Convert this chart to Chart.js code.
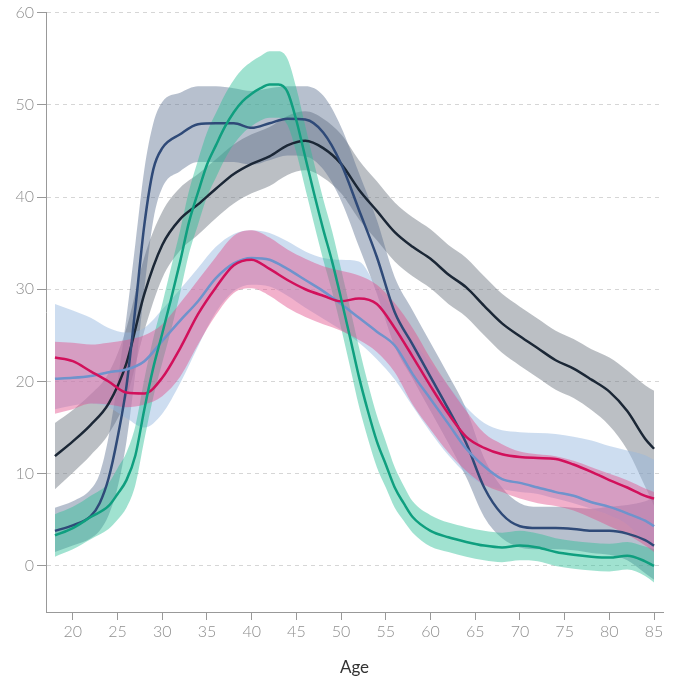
<!DOCTYPE html>
<html lang="en">
<head>
<meta charset="UTF-8" />
<title>Age</title>
<script src="https://cdn.jsdelivr.net/npm/chart.js"></script>
<style>
  html, body { margin: 0; padding: 0; background: #fff; }
</style>
</head>
<body>
<canvas id="ageChart" width="673" height="682"></canvas>
<script>
// tick values
const ageTicks = [20, 25, 30, 35, 40, 45, 50, 55, 60, 65, 70, 75, 80, 85];
const valueTicks = [0, 10, 20, 30, 40, 50, 60];

// common ages (2-year steps)
const ages = [18, 20, 22, 24, 26, 28, 30, 32, 34, 36, 38, 40, 42, 44, 46, 48, 50, 52, 54, 56, 58, 60, 62, 64, 66, 68, 70, 72, 74, 76, 78, 80, 82, 84, 85];

// dark navy series
const navyMid  = [11.9, 13.5, 15.3, 17.6, 22, 29.5, 34.8, 37.6, 39.2, 40.9, 42.5, 43.6, 44.4, 45.6, 46.1, 45.3, 43.6, 40.8, 38.5, 36.2, 34.6, 33.3, 31.6, 30.2, 28.2, 26.3, 24.9, 23.6, 22.3, 21.4, 20.2, 18.9, 16.8, 13.8, 12.7];
const navyLow  = [8.3, 10.1, 12.0, 14.3, 18.2, 25.5, 31.2, 34.2, 35.9, 37.7, 39.3, 40.4, 41.2, 42.4, 42.9, 42.1, 40.4, 37.6, 35.3, 33.0, 31.4, 30.1, 28.4, 27.0, 25.0, 23.1, 21.7, 20.4, 19.1, 18.2, 16.9, 15.2, 12.6, 8.6, 6.5];
const navyHigh = [15.5, 16.9, 18.6, 20.9, 25.8, 33.5, 38.4, 41.0, 42.5, 44.1, 45.7, 46.8, 47.6, 48.8, 49.3, 48.5, 46.8, 44.0, 41.7, 39.4, 37.8, 36.5, 34.8, 33.4, 31.4, 29.5, 28.1, 26.8, 25.5, 24.6, 23.5, 22.6, 21.2, 19.6, 19.0];

// steel blue series
const steelAges = [18, 20, 22, 23, 24, 25, 26, 27, 28, 29, 30, 32, 34, 36, 38, 40, 42, 44, 46, 48, 50, 52, 54, 56, 58, 60, 62, 64, 66, 68, 70, 72, 74, 76, 78, 80, 82, 84, 85];
const steelMid  = [3.8, 4.4, 5.4, 6.8, 9.5, 13.9, 19.5, 28, 37, 43, 45.3, 46.8, 47.9, 48, 48, 47.5, 48, 48.5, 48.4, 47, 43.6, 38.6, 33.5, 27.5, 24, 20.5, 17, 13.3, 8.5, 5.6, 4.3, 4.1, 4.1, 4, 3.8, 3.8, 3.5, 2.8, 2.2];
const steelLow  = [1.5, 2.2, 3.0, 3.8, 5.5, 8.5, 13.5, 21, 30, 37.5, 41, 42.8, 43.8, 43.8, 43.8, 43.5, 44, 44.5, 44.4, 43, 39.6, 34.6, 29.5, 23.8, 20.3, 16.8, 13.3, 9.6, 5.3, 3, 2, 1.8, 1.8, 1.7, 1.4, 1.2, 0.6, -0.8, -1.5];
const steelHigh = [6.3, 7.0, 8.3, 10, 14, 20, 27, 35, 43, 48, 50.3, 51.3, 52, 52, 51.8, 51.5, 51.8, 52, 52, 51, 47.6, 42.6, 37.5, 31.3, 27.7, 24.2, 20.7, 17, 11.7, 8.5, 6.8, 6.4, 6.4, 6.3, 6.2, 6.4, 6.6, 7, 7.5];

// green series
const greenAges = [18, 20, 22, 24, 25, 26, 27, 28, 29, 30, 31, 32, 33, 34, 35, 36, 37, 38, 39, 40, 41, 42, 43, 44, 45, 46, 47, 48, 49, 50, 51, 52, 53, 54, 55, 56, 57, 58, 60, 62, 64, 66, 68, 70, 72, 74, 76, 78, 80, 82, 84, 85];
const greenMid  = [3.3, 4.1, 5.3, 6.5, 7.8, 9.3, 12, 17, 21.5, 25.2, 29, 33, 37.3, 40.5, 43.5, 45.6, 47.6, 49.2, 50.4, 51.2, 51.8, 52.2, 52.2, 51.4, 48.3, 44.3, 40.3, 36.5, 33, 29, 24.8, 20.5, 16.8, 13.5, 11, 8.5, 6.8, 5.3, 3.8, 3.1, 2.6, 2.2, 2, 2.2, 2, 1.5, 1.2, 1, 0.9, 1.1, 0.5, 0];
const greenLow  = [1.0, 1.8, 2.9, 4.0, 5.0, 6.3, 8.8, 13.7, 18.3, 22, 25.6, 29.6, 33.9, 37, 40, 42.1, 44.1, 45.7, 46.9, 47.7, 48.3, 48.6, 48.6, 47.8, 44.8, 40.9, 37, 33.2, 29.7, 25.8, 21.6, 17.3, 13.8, 10.7, 8.5, 6.3, 4.9, 3.6, 2.1, 1.5, 1.0, 0.6, 0.4, 0.6, 0.5, 0, -0.3, -0.5, -0.6, -0.4, -1.1, -1.8];
const greenHigh = [5.6, 6.4, 7.6, 9.0, 10.6, 12.3, 15.2, 20.3, 24.7, 28.4, 32.4, 36.4, 40.7, 44, 47, 49.1, 51.1, 52.7, 53.9, 54.7, 55.3, 55.8, 55.8, 55, 51.8, 47.7, 43.6, 39.8, 36.3, 32.2, 28, 23.7, 19.8, 16.3, 13.5, 10.7, 8.7, 7.0, 5.5, 4.7, 4.2, 3.8, 3.6, 3.8, 3.5, 3, 2.7, 2.5, 2.4, 2.6, 2.1, 1.8];

// magenta series
const magentaMid  = [22.6, 22.2, 21.1, 20, 18.8, 18.7, 20.4, 23.6, 27.3, 30.2, 32.6, 33.2, 32.2, 31, 30, 29.3, 28.7, 29, 28.4, 25.8, 22.7, 19.5, 16.5, 14, 12.8, 12.1, 11.8, 11.7, 11.6, 11, 10.2, 9.3, 8.5, 7.6, 7.3];
const magentaLow  = [16.5, 17, 17.6, 17.5, 17.2, 17.5, 18.4, 20.5, 24, 27.2, 29.6, 30.1, 29.3, 28, 27, 26.2, 25.5, 24.5, 23.2, 21, 17.5, 14.8, 12.3, 10.3, 8.8, 8, 7.3, 6.8, 6.5, 6, 5.2, 4.3, 3.4, 2.2, 1.5];
const magentaHigh = [24.3, 24.2, 24, 24.2, 24.5, 25, 26.2, 28.5, 31, 33.5, 35.8, 36.4, 35.6, 34.3, 33.3, 32.5, 32, 31.5, 30.5, 28.5, 25.8, 22.5, 19.5, 16.8, 14.4, 13.2, 12.4, 12.1, 11.9, 11.4, 10.7, 10, 9.3, 8.4, 8];

// light blue series
const lightMid  = [20.3, 20.4, 20.6, 21, 21.3, 22.2, 24.4, 26.6, 28.7, 31.2, 32.8, 33.4, 33.2, 32.2, 31, 29.8, 28.4, 26.9, 25.4, 23.9, 20.8, 18.1, 15.4, 12.7, 10.8, 9.4, 9, 8.5, 8, 7.6, 6.9, 6.4, 5.7, 4.9, 4.3];
const lightLow  = [17.0, 17.4, 17.6, 17.2, 16.0, 15.0, 16.5, 19.8, 23.8, 27.5, 29.8, 30.5, 30.3, 29.3, 28, 26.8, 25.6, 24.2, 22.4, 20.2, 17.3, 14.5, 12, 10, 8.8, 8.3, 8, 7.8, 7.3, 6.8, 6.2, 5.5, 4.5, 2.5, 1.5];
const lightHigh = [28.4, 27.7, 26.9, 25.8, 25.3, 25.8, 27.8, 30, 32.3, 34.6, 36, 36.4, 36.1, 35.2, 34.1, 33.4, 33.2, 33, 30.2, 27.5, 24.5, 22, 19.5, 17.2, 15.5, 14.7, 14.5, 14.4, 14.3, 14, 13.6, 13, 12.5, 12, 11.5];

const pts = (xs, ys) => xs.map((x, i) => ({ x: x, y: ys[i] }));

function band(xs, low, high, color) {
  return [
    { data: pts(xs, low), borderWidth: 0, pointRadius: 0, fill: false,
      cubicInterpolationMode: 'monotone' },
    { data: pts(xs, high), borderWidth: 0, pointRadius: 0, fill: '-1',
      backgroundColor: color, cubicInterpolationMode: 'monotone' }
  ];
}

function line(xs, ys, color) {
  return { data: pts(xs, ys), borderColor: color, borderWidth: 2.5, pointRadius: 0,
    fill: false, cubicInterpolationMode: 'monotone' };
}

const datasets = [
  line(greenAges, greenMid, '#0f9f7f'),
  line(ages, magentaMid, '#d2105b'),
  line(ages, lightMid, '#6f93cc'),
  line(steelAges, steelMid, '#2f4a78'),
  line(ages, navyMid, '#1b2736'),
  ...band(ages, magentaLow, magentaHigh, 'rgba(226, 80, 140, 0.45)'),
  ...band(greenAges, greenLow, greenHigh, 'rgba(45, 190, 150, 0.45)'),
  ...band(ages, lightLow, lightHigh, 'rgba(150, 183, 224, 0.48)'),
  ...band(steelAges, steelLow, steelHigh, 'rgba(88, 108, 142, 0.43)'),
  ...band(ages, navyLow, navyHigh, 'rgba(110, 118, 130, 0.47)')
];

const tickFont = { family: 'Lato', size: 16, weight: '300' };

new Chart(document.getElementById('ageChart'), {
  type: 'line',
  data: { datasets: datasets },
  options: {
    responsive: false,
    animation: false,
    layout: { padding: { top: 12, right: 10, bottom: 0, left: 0 } },
    plugins: {
      legend: { display: false },
      tooltip: { enabled: false },
      filler: { drawTime: 'beforeDatasetsDraw' }
    },
    scales: {
      x: {
        type: 'linear',
        min: 17,
        max: 86,
        afterBuildTicks: s => { s.ticks = ageTicks.map(v => ({ value: v })); },
        afterFit: s => { s.height = 70; },
        ticks: { color: '#8f8f8f', font: tickFont, padding: 2, maxRotation: 0 },
        grid: { drawOnChartArea: false, tickLength: 8, tickColor: '#999' },
        border: { color: '#999', width: 1 },
        title: { display: true, text: 'Age', color: '#333',
          font: { family: 'Lato', size: 17 }, padding: { top: 0, bottom: 4 } }
      },
      y: {
        min: -5,
        max: 60,
        afterBuildTicks: s => { s.ticks = valueTicks.map(v => ({ value: v })); },
        afterFit: s => { s.width = 46; },
        ticks: { color: '#8f8f8f', font: tickFont, padding: 3 },
        grid: { color: '#d6d6d6', tickColor: '#999', tickLength: 9, tickBorderDash: [] },
        border: { color: '#999', width: 1, dash: [4, 4] }
      }
    }
  }
});
</script>
</body>
</html>
